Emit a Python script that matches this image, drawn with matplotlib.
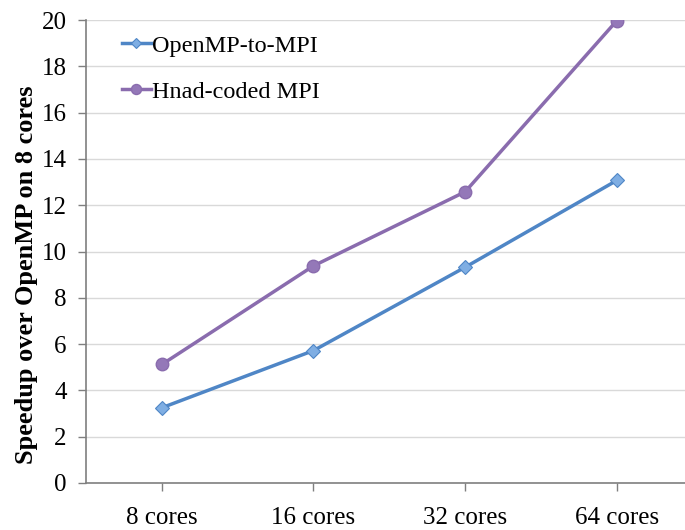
import matplotlib
matplotlib.use("Agg")
import matplotlib.pyplot as plt

categories = ['8 cores', '16 cores', '32 cores', '64 cores']
openmp_to_mpi = [3.25, 5.72, 9.32, 13.07]
hand_coded_mpi = [5.12, 9.38, 12.58, 19.97]
y_ticks = [0, 2, 4, 6, 8, 10, 12, 14, 16, 18, 20]

plt.rcParams['font.family'] = ['Liberation Serif', 'DejaVu Serif']

fig = plt.figure(figsize=(6.85, 5.3), dpi=100)
ax = fig.add_axes([0.1256, 0.0887, 0.8744, 0.8735])

x = range(len(categories))
ax.plot(x, openmp_to_mpi, color='#4F86C6', lw=2.5, marker='D', ms=7,
        markerfacecolor='#7FAEE3', markeredgecolor='#4F86C6', markeredgewidth=0.8,
        label='OpenMP-to-MPI', zorder=3)
ax.plot(x, hand_coded_mpi, color='#8A6CAE', lw=2.5, marker='o', ms=9,
        markerfacecolor='#9478B8', markeredgecolor='#8A6CAE',
        label='Hnad-coded MPI', zorder=3)

ax.set_xlim(-0.5, 3.45)
ax.set_ylim(0, 20)
ax.set_yticks(y_ticks)
ax.set_xticks(list(x))
ax.set_xticklabels(categories)
ax.yaxis.grid(True, color='#D9D9D9', lw=1)
ax.set_axisbelow(True)

for s in ['top', 'right']:
    ax.spines[s].set_visible(False)
for s in ['left', 'bottom']:
    ax.spines[s].set_color('#7F7F7F')
    ax.spines[s].set_linewidth(1.2)

ax.tick_params(axis='both', labelsize=18, color='#7F7F7F', length=6, width=1.0, direction='out')
ax.tick_params(axis='x', pad=11)
ax.tick_params(axis='y', pad=8)

ax.set_ylabel('Speedup over OpenMP on 8 cores', fontsize=19, fontweight='bold')
ax.yaxis.set_label_coords(-0.08, 0.45)

ax.legend(loc='upper left', bbox_to_anchor=(0.035, 1.0), frameon=False, fontsize=17.5,
          handlelength=1.2, handletextpad=0.05, labelspacing=1.0, borderaxespad=0.2,
          markerscale=0.8)

fig.savefig('out.png', dpi=100)
